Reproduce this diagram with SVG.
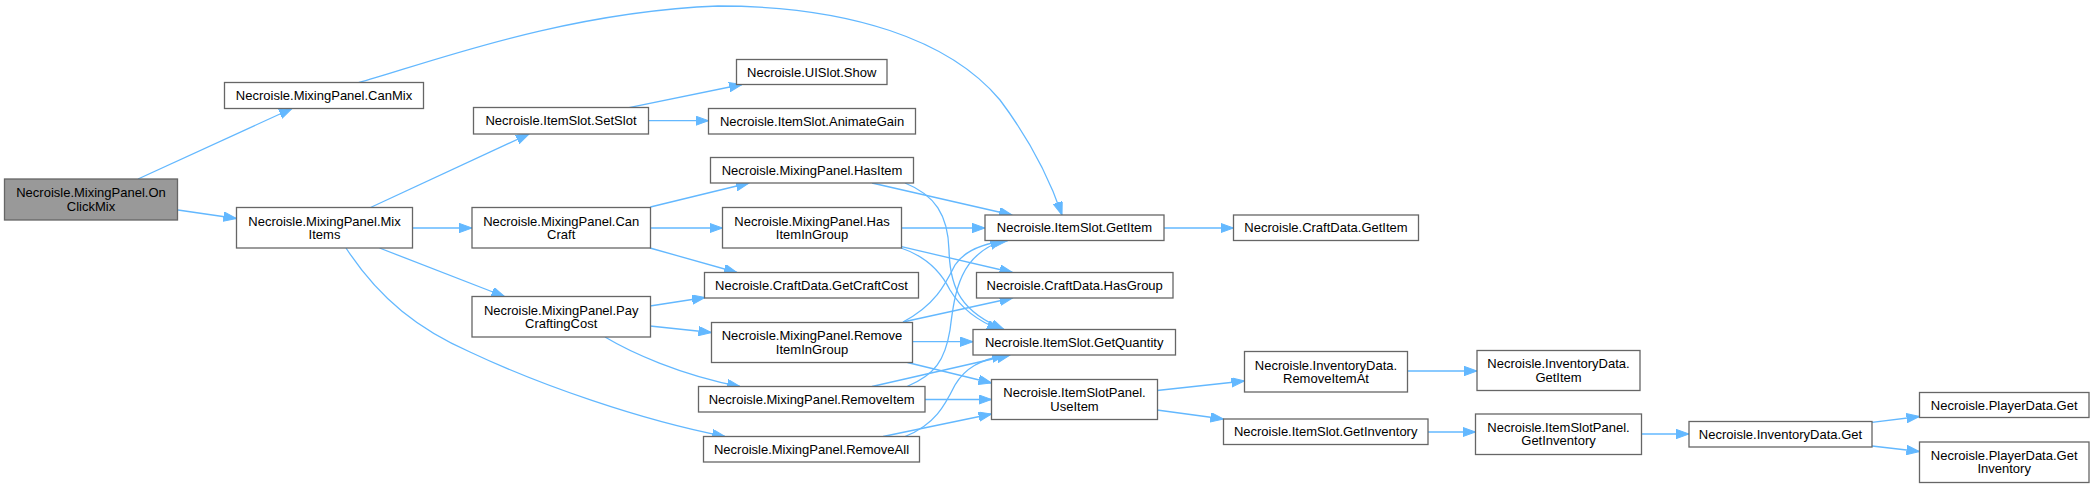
<svg xmlns="http://www.w3.org/2000/svg" width="2095" height="488" viewBox="0 0 2095 488">
<style>
.n rect{fill:#ffffff;stroke:#666666;stroke-width:1.3}
.n.root rect{fill:#999999}
.n text{font-family:"Liberation Sans",Arial,sans-serif;font-size:13px;fill:#000000;text-anchor:middle}
.e path{fill:none;stroke:#63b8ff;stroke-width:1.3;marker-end:url(#arr)}
</style>
<defs>
<marker id="arr" markerWidth="14" markerHeight="10" refX="13" refY="4.7" orient="auto" markerUnits="userSpaceOnUse">
<path d="M0,0 L13,4.7 L0,9.4 z" fill="#63b8ff" stroke="#63b8ff" stroke-width="1"/>
</marker>
</defs>
<rect width="2095" height="488" fill="#ffffff"/>
<g id="edges" class="e">
<path d="M138,179 L292,108.5"/>
<path d="M178,210 L236.5,218.5"/>
<path d="M358.5,82.7 C420,66 560,12 718,6 C850,6 950,40 1000,100 C1030,140 1050,180 1062,215"/>
<path d="M370.5,207.5 L529,134"/>
<path d="M412.5,228 L472,228"/>
<path d="M379.5,248 L504.5,296.5"/>
<path d="M346,248 C380,300 420,330 470,352 C540,385 640,420 725,436.5"/>
<path d="M629,107.7 L742,84.5"/>
<path d="M648.5,120.7 L708.5,120.7"/>
<path d="M650.4,207 L749,183"/>
<path d="M650.5,228 L722.5,228"/>
<path d="M650,248 L737,272.5"/>
<path d="M650,306 L705,297.5"/>
<path d="M650,326 L711.5,332.5"/>
<path d="M605,337 C630,352 680,375 740,386.5"/>
<path d="M872,183 L1012,215"/>
<path d="M905,183 C935,195 948,215 949,250 C950,290 962,312 1004,329.5"/>
<path d="M901.5,228 L985,228"/>
<path d="M901.5,246.7 L1012.5,272.5"/>
<path d="M901,248 C925,256 940,270 950,290 C962,310 980,322 1000,329.5"/>
<path d="M903,322 C935,305 945,285 955,265 C965,250 985,243 1008,240.5"/>
<path d="M903,322 L1012.5,298"/>
<path d="M912.5,341.7 L973,341.7"/>
<path d="M907.5,362.5 L991.5,383"/>
<path d="M907,386.5 C935,375 945,360 950,330 C955,290 960,255 1003,240.5"/>
<path d="M872,386.5 L1010,355"/>
<path d="M925,399.5 L991.5,399.5"/>
<path d="M905,436.5 C935,425 945,405 955,385 C965,368 980,360 1005,355"/>
<path d="M883,436.5 L991.5,414"/>
<path d="M1164,228 L1233.5,228"/>
<path d="M1157,390.5 L1244.5,381"/>
<path d="M1157,410 L1223.5,419"/>
<path d="M1407.5,371 L1477,371"/>
<path d="M1428,432 L1475.5,432"/>
<path d="M1641.5,434 L1689,434"/>
<path d="M1872,422.3 L1919.5,416.5"/>
<path d="M1872,446 L1919.5,451.5"/>
</g>
<g id="OnClickMix" class="n root"><rect x="4.5" y="179" width="173" height="41"/><text x="91" y="197.3">Necroisle.MixingPanel.On</text><text x="91" y="210.5">ClickMix</text></g>
<g id="CanMix" class="n"><rect x="224.5" y="82.5" width="199" height="26"/><text x="324" y="100">Necroisle.MixingPanel.CanMix</text></g>
<g id="MixItems" class="n"><rect x="236.5" y="207.5" width="176" height="40.5"/><text x="324.5" y="225.5">Necroisle.MixingPanel.Mix</text><text x="324.5" y="238.8">Items</text></g>
<g id="SetSlot" class="n"><rect x="473.5" y="107.5" width="175" height="26.5"/><text x="561" y="125.3">Necroisle.ItemSlot.SetSlot</text></g>
<g id="CanCraft" class="n"><rect x="472" y="207.5" width="178.5" height="40.5"/><text x="561.2" y="225.5">Necroisle.MixingPanel.Can</text><text x="561.2" y="238.8">Craft</text></g>
<g id="PayCraftingCost" class="n"><rect x="472" y="296.5" width="178.5" height="40.5"/><text x="561.2" y="314.5">Necroisle.MixingPanel.Pay</text><text x="561.2" y="327.8">CraftingCost</text></g>
<g id="UISlotShow" class="n"><rect x="736.5" y="59.5" width="150.5" height="25"/><text x="811.7" y="76.5">Necroisle.UISlot.Show</text></g>
<g id="AnimateGain" class="n"><rect x="708.5" y="108.5" width="207" height="25.5"/><text x="812" y="125.7">Necroisle.ItemSlot.AnimateGain</text></g>
<g id="HasItem" class="n"><rect x="710.5" y="157.5" width="203" height="25.5"/><text x="812" y="174.7">Necroisle.MixingPanel.HasItem</text></g>
<g id="HasItemInGroup" class="n"><rect x="722.5" y="207.5" width="179" height="40.5"/><text x="812" y="225.5">Necroisle.MixingPanel.Has</text><text x="812" y="238.8">ItemInGroup</text></g>
<g id="GetCraftCost" class="n"><rect x="704.5" y="272.5" width="214" height="25.5"/><text x="811.5" y="289.7">Necroisle.CraftData.GetCraftCost</text></g>
<g id="RemoveItemInGroup" class="n"><rect x="711.5" y="322.5" width="201" height="40"/><text x="812" y="340.3">Necroisle.MixingPanel.Remove</text><text x="812" y="353.5">ItemInGroup</text></g>
<g id="RemoveItem" class="n"><rect x="698.5" y="386.5" width="226.5" height="25.5"/><text x="811.7" y="403.7">Necroisle.MixingPanel.RemoveItem</text></g>
<g id="RemoveAll" class="n"><rect x="703.5" y="436.5" width="216" height="25.5"/><text x="811.5" y="453.7">Necroisle.MixingPanel.RemoveAll</text></g>
<g id="ItemSlotGetItem" class="n"><rect x="985" y="215" width="179" height="25.5"/><text x="1074.5" y="232.2">Necroisle.ItemSlot.GetItem</text></g>
<g id="HasGroup" class="n"><rect x="976.5" y="272.5" width="196.5" height="25.5"/><text x="1074.7" y="289.7">Necroisle.CraftData.HasGroup</text></g>
<g id="GetQuantity" class="n"><rect x="973" y="329.5" width="202.5" height="25.5"/><text x="1074.2" y="346.7">Necroisle.ItemSlot.GetQuantity</text></g>
<g id="UseItem" class="n"><rect x="991.5" y="379.5" width="166" height="40"/><text x="1074.5" y="397.3">Necroisle.ItemSlotPanel.</text><text x="1074.5" y="410.5">UseItem</text></g>
<g id="CraftDataGetItem" class="n"><rect x="1233.5" y="215" width="185" height="25.5"/><text x="1326" y="232.2">Necroisle.CraftData.GetItem</text></g>
<g id="RemoveItemAt" class="n"><rect x="1244.5" y="351.5" width="163" height="40.5"/><text x="1326" y="369.5">Necroisle.InventoryData.</text><text x="1326" y="382.8">RemoveItemAt</text></g>
<g id="ItemSlotGetInventory" class="n"><rect x="1223.5" y="419" width="204.5" height="25.5"/><text x="1325.7" y="436.2">Necroisle.ItemSlot.GetInventory</text></g>
<g id="InvDataGetItem" class="n"><rect x="1477" y="350.5" width="163" height="40"/><text x="1558.5" y="368.3">Necroisle.InventoryData.</text><text x="1558.5" y="381.5">GetItem</text></g>
<g id="ItemSlotPanelGetInventory" class="n"><rect x="1475.5" y="414" width="166" height="40.5"/><text x="1558.5" y="432">Necroisle.ItemSlotPanel.</text><text x="1558.5" y="445.3">GetInventory</text></g>
<g id="InvDataGet" class="n"><rect x="1689" y="421.5" width="183" height="25.5"/><text x="1780.5" y="438.7">Necroisle.InventoryData.Get</text></g>
<g id="PlayerDataGet" class="n"><rect x="1919.5" y="392.5" width="169.5" height="25"/><text x="2004.2" y="409.5">Necroisle.PlayerData.Get</text></g>
<g id="PlayerDataGetInventory" class="n"><rect x="1919.5" y="442" width="169.5" height="40.5"/><text x="2004.2" y="460">Necroisle.PlayerData.Get</text><text x="2004.2" y="473.3">Inventory</text></g>
</svg>
